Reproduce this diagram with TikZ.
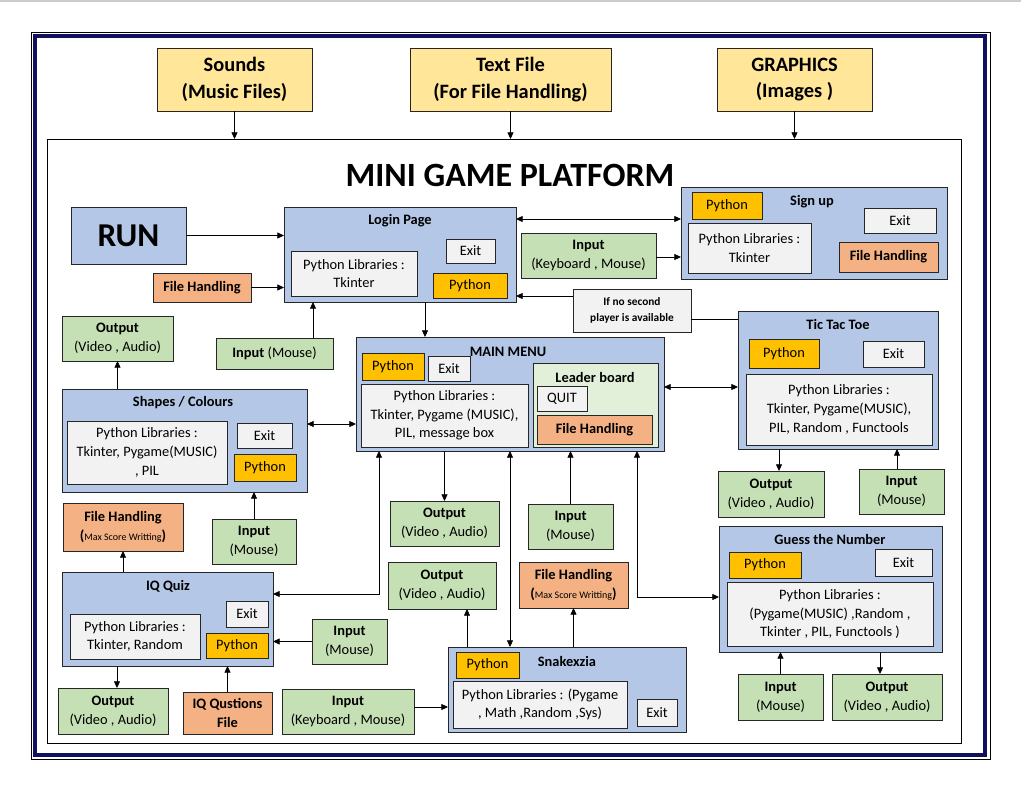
\documentclass[tikz,border=0pt]{standalone}
\usepackage{fontspec}
\setmainfont{Carlito}
\usetikzlibrary{arrows.meta,calc}
\definecolor{bbl}{HTML}{B4C7E7}
\definecolor{grn}{HTML}{C5E0B4}
\definecolor{orgc}{HTML}{F4B183}
\definecolor{pyc}{HTML}{FFC000}
\definecolor{gryc}{HTML}{F2F2F2}
\definecolor{yelc}{HTML}{FFE699}
\definecolor{lgrn}{HTML}{E2F0D9}
\definecolor{navyc}{HTML}{10105E}
\newcommand{\bx}[7]{\node[#1, minimum width={(#5-#3)*0.75pt}, minimum height={(#6-#4)*0.75pt}] (#2) at ({(#3+#5)/2},{(#4+#6)/2}) {#7};}
\tikzset{
  base/.style={draw=black!85, line width=0.6pt, inner sep=0pt, outer sep=0pt, align=center, font=\fontsize{10.8}{14}\selectfont},
  bf/.style={font=\fontsize{10.8}{14}\selectfont\bfseries},
  cont/.style={base, fill=bbl},
  grnb/.style={base, fill=grn},
  orgb/.style={base, fill=orgc},
  pyb/.style={base, fill=pyc},
  gryb/.style={base, fill=gryc},
  yelb/.style={base, fill=yelc, font=\fontsize{15.3}{20}\selectfont\bfseries},
  ttl/.style={font=\fontsize{10.8}{14}\selectfont\bfseries, inner sep=0pt},
  arr/.style={-{Triangle[length=5pt,width=4.5pt]}, line width=0.6pt},
  darr/.style={{Triangle[length=5pt,width=4.5pt]}-{Triangle[length=5pt,width=4.5pt]}, line width=0.6pt},
  plain/.style={line width=0.6pt}
}
\begin{document}
\begin{tikzpicture}[x=0.75pt,y=-0.75pt]
\useasboundingbox (0,0) rectangle (1021,789);
\draw[black!20, line width=1pt] (0,1) -- (1021,1);
% page border
\draw[line width=0.6pt] (31,32) rectangle (990,759);
\draw[navyc, line width=2.3pt] (35,36) rectangle (985,755);
\bx{draw=black, line width=0.6pt, inner sep=0pt, outer sep=0pt}{frame}{47}{139}{961}{743}{}

% top resources
\bx{yelb}{snd}{157}{48}{312}{111}{Sounds\\(Music Files)}
\bx{yelb}{txt}{410}{48}{611}{111}{Text File\\(For File Handling)}
\bx{yelb}{gfx}{717}{48}{872}{111}{GRAPHICS\\(Images )}

\node[font=\fontsize{25.5}{30}\selectfont\bfseries, inner sep=0pt] (title) at (510,175) {MINI GAME PLATFORM};

% RUN
\bx{cont, font=\fontsize{25}{28}\selectfont\bfseries}{run}{71}{207}{186}{264}{RUN}

% Login
\bx{cont}{login}{284}{207}{516}{302}{}
\node[ttl] (login-t) at (400,221) {Login Page};
\bx{gryb}{login-lib}{291}{251}{417}{296}{Python Libraries :\\Tkinter}
\bx{gryb}{login-exit}{446}{239}{495}{263}{Exit}
\bx{pyb}{login-py}{433}{273}{507}{298}{Python}

\bx{orgb, bf}{fh1}{153}{273}{251}{302}{File Handling}
\bx{grnb}{in1}{216}{338}{333}{369}{\textbf{Input} (Mouse)}
\bx{grnb}{out1}{62}{316}{173}{361}{\textbf{Output}\\(Video , Audio)}

% Sign up
\bx{cont}{signup}{681}{187}{947}{279}{}
\node[ttl] (signup-t) at (812,202) {Sign up};
\bx{pyb}{su-py}{692}{192}{762}{219}{Python}
\bx{gryb}{su-lib}{688}{223}{811}{273}{Python Libraries :\\Tkinter}
\bx{gryb}{su-exit}{864}{208}{936}{233}{Exit}
\bx{orgb, bf}{su-fh}{839}{242}{938}{272}{File Handling}

\bx{grnb}{in2}{521}{233}{656}{278}{\textbf{Input}\\(Keyboard , Mouse)}
\bx{gryb, font=\fontsize{8.5}{12.5}\selectfont\bfseries}{note}{573}{289}{691}{332}{If no second\\player is available}

% Tic Tac Toe
\bx{cont}{ttt}{738}{311}{938}{449}{}
\node[ttl] (ttt-t) at (838,324) {Tic Tac Toe};
\bx{pyb}{ttt-py}{749}{339}{819}{368}{Python}
\bx{gryb}{ttt-exit}{863}{341}{924}{367}{Exit}
\bx{gryb}{ttt-lib}{746}{374}{932}{445}{Python Libraries :\\Tkinter, Pygame(MUSIC),\\PIL, Random , Functools}

% Main menu
\bx{cont}{mm}{356}{337}{664}{451}{}
\node[ttl] (mm-t) at (508,352) {MAIN MENU};
\bx{pyb}{mm-py}{362}{353}{424}{380}{Python}
\bx{gryb}{mm-exit}{428}{356}{470}{381}{Exit}
\bx{gryb}{mm-lib}{361}{384}{528}{447}{Python Libraries :\\Tkinter, Pygame (MUSIC),\\PIL, message box}
\bx{base, fill=lgrn}{lb}{533}{363}{658}{447}{}
\node[ttl] (lb-t) at (595,377) {Leader board};
\bx{gryb}{quit}{537}{386}{587}{411}{QUIT}
\bx{orgb, bf}{lb-fh}{537}{415}{652}{444}{File Handling}

% Shapes
\bx{cont}{shp}{62}{389}{307}{492}{}
\node[ttl] (shp-t) at (183,403) {Shapes / Colours};
\bx{gryb}{shp-lib}{67}{421}{227}{484}{Python Libraries :\\Tkinter, Pygame(MUSIC)\\, PIL}
\bx{gryb}{shp-exit}{237}{423}{292}{448}{Exit}
\bx{pyb}{shp-py}{234}{454}{296}{481}{Python}

\bx{orgb}{fh2}{63}{503}{183}{551}{\textbf{File Handling}\\\textbf{(}{\fontsize{7.5}{9}\selectfont Max Score Writting}\textbf{)}}
\bx{grnb}{in3}{212}{519}{296}{564}{\textbf{Input}\\(Mouse)}

% IQ Quiz
\bx{cont}{iq}{62}{572}{273}{666}{}
\node[ttl] (iq-t) at (168,586) {IQ Quiz};
\bx{gryb}{iq-exit}{226}{601}{268}{627}{Exit}
\bx{pyb}{iq-py}{206}{633}{268}{658}{Python}
\bx{gryb}{iq-lib}{70}{614}{200}{659}{Python Libraries :\\Tkinter, Random}
\bx{grnb}{in4}{312}{619}{387}{664}{\textbf{Input}\\(Mouse)}
\bx{grnb}{out2}{58}{688}{168}{734}{\textbf{Output}\\(Video , Audio)}
\bx{orgb, bf}{iqf}{183}{692}{272}{734}{IQ Qustions\\File}
\bx{grnb}{in5}{282}{689}{414}{734}{\textbf{Input}\\(Keyboard , Mouse)}

% Snakexzia
\bx{cont}{snk}{448}{647}{686}{732}{}
\node[ttl] (snk-t) at (567,661) {Snakexzia};
\bx{pyb}{snk-py}{456}{652}{519}{678}{Python}
\bx{gryb}{snk-lib}{453}{681}{627}{728}{Python Libraries : (Pygame\\, Math ,Random ,Sys)}
\bx{gryb}{snk-exit}{637}{699}{677}{726}{Exit}

\bx{grnb}{out3}{390}{501}{499}{546}{\textbf{Output}\\(Video , Audio)}
\bx{grnb}{out4}{388}{562}{496}{609}{\textbf{Output}\\(Video , Audio)}
\bx{grnb}{in6}{528}{504}{613}{549}{\textbf{Input}\\(Mouse)}
\bx{orgb}{fh3}{519}{562}{628}{608}{\textbf{File Handling}\\\textbf{(}{\fontsize{7.5}{9}\selectfont Max Score Writting}\textbf{)}}

% Guess the number
\bx{cont}{gn}{719}{526}{942}{652}{}
\node[ttl] (gn-t) at (830,539) {Guess the Number};
\bx{pyb}{gn-py}{729}{552}{801}{578}{Python}
\bx{gryb}{gn-exit}{875}{549}{932}{576}{Exit}
\bx{gryb}{gn-lib}{727}{582}{933}{646}{Python Libraries :\\(Pygame(MUSIC) ,Random ,\\Tkinter , PIL, Functools )}
\bx{grnb}{out5}{718}{471}{824}{517}{\textbf{Output}\\(Video , Audio)}
\bx{grnb}{in7}{859}{469}{944}{514}{\textbf{Input}\\(Mouse)}
\bx{grnb}{in8}{738}{674}{823}{720}{\textbf{Input}\\(Mouse)}
\bx{grnb}{out6}{832}{674}{942}{720}{\textbf{Output}\\(Video , Audio)}

% connectors
\draw[arr] (snd.south) -- (snd.south |- frame.north);
\draw[arr] (txt.south) -- (txt.south |- frame.north);
\draw[arr] (gfx.south) -- (gfx.south |- frame.north);
\draw[arr] (run) -- (run -| login.west);
\draw[arr] (fh1) -- (fh1 -| login.west);
\path (in1.north) ++(38.5,0) coordinate (c1);
\draw[arr] (c1) -- (c1 |- login.south);
\draw[arr] (out1.south |- shp.north) -- (out1.south);
\path (login.north east) ++(0,12) coordinate (c2);
\draw[darr] (c2) -- (c2 -| signup.west);
\path (in2.east) ++(0,1.5) coordinate (c2b);
\draw[arr] (c2b) -- (c2b -| signup.west);
\path (note.west) ++(0,-14.5) coordinate (c3);
\draw[arr] (c3) -- (c3 -| login.east);
\path (note.east) ++(0,8.5) coordinate (c4);
\draw[plain] (c4 -| ttt.west) -- (c4);
\path (login.south) ++(25,0) coordinate (c5);
\draw[arr] (c5) -- (c5 |- mm.north);
\path (mm.east) ++(0,-7) coordinate (c6);
\draw[darr] (c6) -- (c6 -| ttt.west);
\path (shp.east) ++(0,-16.5) coordinate (c7);
\draw[darr] (c7) -- (c7 -| mm.west);
\draw[arr] (in3.north) -- (in3.north |- shp.south);
\draw[arr] (fh2.south |- iq.north) -- (fh2.south);
\path (mm.south west) ++(23,0) coordinate (c8);
\path (iq.east) ++(0,-25) coordinate (c9);
\draw[darr] (c9) -| (c8);
\draw[arr] (in4) -- (in4 -| iq.east);
\path (out2.north) ++(4,0) coordinate (c10);
\draw[arr] (c10 |- iq.south) -- (c10);
\draw[arr] (iqf.north) -- (iqf.north |- iq.south);
\path (in5.east) ++(0,-4.5) coordinate (c10b);
\draw[arr] (c10b) -- (c10b -| snk.west);
\draw[arr] (out3.north |- mm.south) -- (out3.north);
\path (out4.south) ++(25,0) coordinate (c11);
\draw[arr] (c11 |- snk.north) -- (c11);
\draw[darr] (mm.south) -- (mm.south |- snk.north);
\draw[arr] (in6.north) -- (in6.north |- mm.south);
\draw[arr] (fh3.south |- snk.north) -- (fh3.south);
\path (mm.south east) ++(-27,0) coordinate (c12);
\path (gn.west) ++(0,8) coordinate (c13);
\draw[darr] (c12) |- (c13);
\path (out5.north) ++(8,0) coordinate (c14);
\draw[arr] (c14 |- ttt.south) -- (c14);
\path (in7.north) ++(-4.5,0) coordinate (c15);
\draw[arr] (c15) -- (c15 |- ttt.south);
\draw[arr] (in8.north) -- (in8.north |- gn.south);
\path (out6.north) ++(-7,0) coordinate (c16);
\draw[arr] (c16 |- gn.south) -- (c16);
\end{tikzpicture}
\end{document}
